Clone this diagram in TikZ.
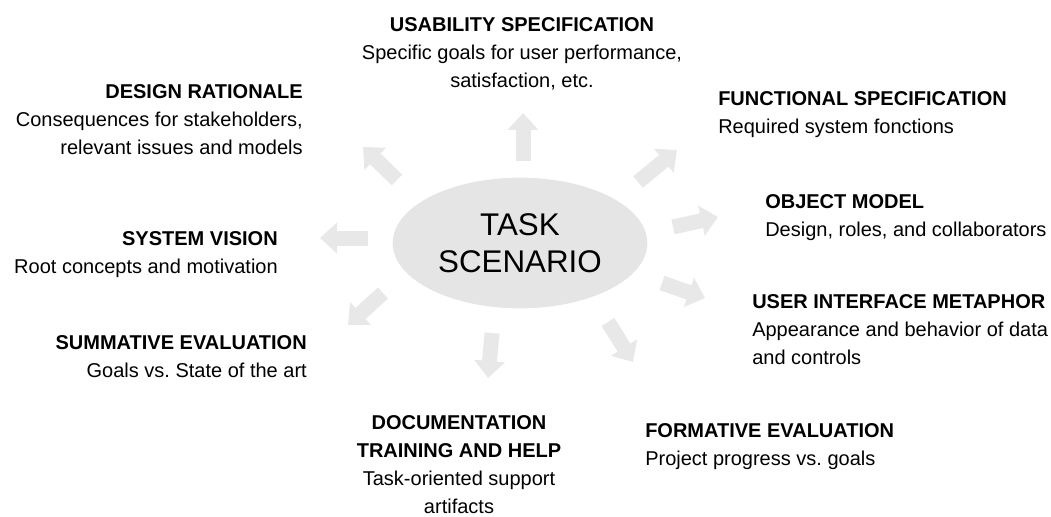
\documentclass[tikz,border=0pt]{standalone}
\usepackage{fontspec}
\setmainfont{Liberation Sans}
\usetikzlibrary{shapes.geometric, arrows.meta}
\frenchspacing

\begin{document}
\begin{tikzpicture}[
    x=0.75pt, y=-0.75pt,
    infotext/.style={inner sep=0pt, font=\fontsize{15}{21}\selectfont},
    ray/.style={line width=11.25pt, draw=gray!18, -{Triangle[length=12.75pt, width=22.5pt]}},
    core/.style={ellipse, fill=gray!20, minimum width=191pt, minimum height=98pt, inner sep=0pt, align=center, font=\fontsize{23.5}{27.75}\selectfont}
]
    \useasboundingbox (0,0) rectangle (1051,517);
    \node[core] (task) at (520,243) {TASK\\SCENARIO};
    % arrows going out of the scenario
    \foreach \x/\y/\u/\v in {523/161/523/113, 397/180/363/147, 368/238/320/238, 383/293/348/325, 492/333/488/378, 608/322/633/362, 662/283/705/298, 673/227/718/217, 638/182/677/150}
        \draw[ray] (\x,\y) -- (\u,\v);
    % the surrounding work products
    \node[infotext, anchor=north, align=center] (usab) at (522,17) {\textbf{USABILITY SPECIFICATION}\\Specific goals for user performance,\\satisfaction, etc.};
    \node[infotext, anchor=north east, align=right] (ratio) at (303,84) {\textbf{DESIGN RATIONALE}\\Consequences for stakeholders,\\relevant issues and models};
    \node[infotext, anchor=north west, align=left] (func) at (718,91) {\textbf{FUNCTIONAL SPECIFICATION}\\Required system fonctions};
    \node[infotext, anchor=north west, align=left] (obj) at (765,194) {\textbf{OBJECT MODEL}\\Design, roles, and collaborators};
    \node[infotext, anchor=north east, align=right] (vision) at (278,231) {\textbf{SYSTEM VISION}\\Root concepts and motivation};
    \node[infotext, anchor=north west, align=left] (uim) at (752,294) {\textbf{USER INTERFACE METAPHOR}\\Appearance and behavior of data\\and controls};
    \node[infotext, anchor=north east, align=right] (summ) at (307,335) {\textbf{SUMMATIVE EVALUATION}\\Goals vs. State of the art};
    \node[infotext, anchor=north, align=center] (doc) at (459,415) {\textbf{DOCUMENTATION}\\\textbf{TRAINING AND HELP}\\Task-oriented support\\artifacts};
    \node[infotext, anchor=north west, align=left] (form) at (645,423) {\textbf{FORMATIVE EVALUATION}\\Project progress vs. goals};
\end{tikzpicture}
\end{document}
